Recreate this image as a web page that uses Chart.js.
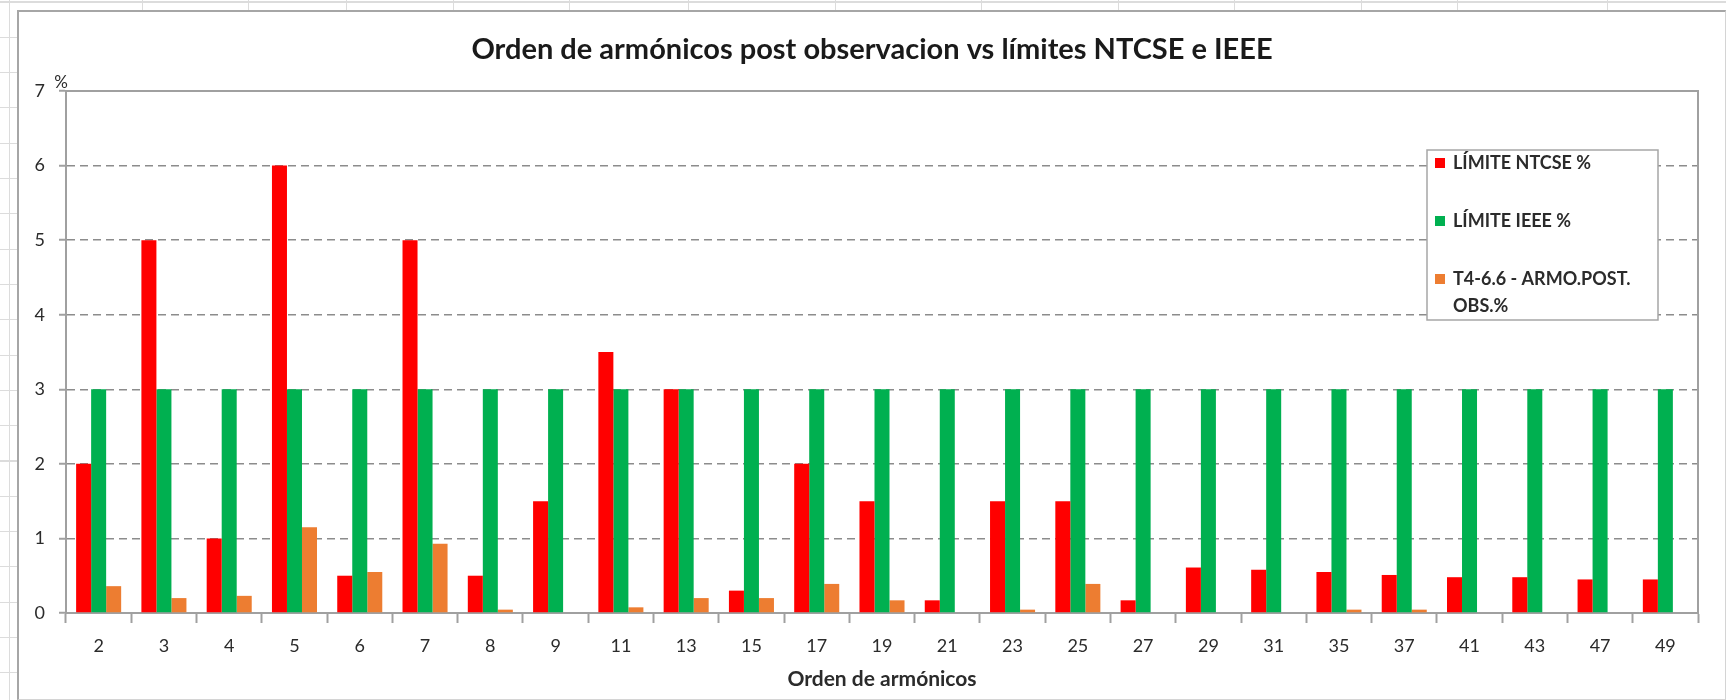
<!DOCTYPE html>
<html>
<head>
<meta charset="utf-8">
<title>Orden de armónicos</title>
<script src="https://cdn.jsdelivr.net/npm/chart.js@4.4.0/dist/chart.umd.min.js"></script>
<style>
  html, body { margin: 0; padding: 0; }
  body {
    width: 1726px; height: 700px; position: relative; overflow: hidden; background: #fff;
    background-image: repeating-linear-gradient(to bottom, transparent 0px, transparent 1.5px, #dcdcdc 1.5px, #dcdcdc 2.6px, transparent 2.6px, transparent 35.3px);
  }
  .col { position: absolute; top: 0; width: 1px; height: 700px; background: #dcdcdc; }
  #wrap {
    position: absolute; left: 17px; top: 10px; width: 1709px; height: 690px; box-sizing: border-box;
    background: #fff; border-left: 2px solid #a6a6a6; border-top: 2px solid #a6a6a6;
    border-right: 1px solid #d4d4d4; border-bottom: 1px solid #d4d4d4; z-index: 2;
  }
  canvas { display: block; }
</style>
</head>
<body>
<div id="wrap"><canvas id="armonicosChart" width="1706" height="687"></canvas></div>
<script>
// datos
const harmonicOrders = ['2', '3', '4', '5', '6', '7', '8', '9', '11', '13', '15', '17', '19', '21', '23', '25', '27', '29', '31', '35', '37', '41', '43', '47', '49'];
const limiteNtcse = [2, 5, 1, 6, 0.5, 5, 0.5, 1.5, 3.5, 3, 0.3, 2, 1.5, 0.17, 1.5, 1.5, 0.17, 0.61, 0.58, 0.55, 0.51, 0.48, 0.48, 0.45, 0.45];
const limiteIeee = [3, 3, 3, 3, 3, 3, 3, 3, 3, 3, 3, 3, 3, 3, 3, 3, 3, 3, 3, 3, 3, 3, 3, 3, 3];
const armoPostObs = [0.36, 0.2, 0.23, 1.15, 0.55, 0.93, 0.045, 0, 0.076, 0.2, 0.2, 0.39, 0.17, 0, 0.045, 0.39, 0, 0, 0, 0.045, 0.045, 0, 0, 0, 0];
const yMin = 0;
const yMax = 7;

// columnas de la hoja de calculo detras del grafico
const sheetCols = [9, 142, 248, 346, 453, 569, 688, 835, 981, 1118, 1234, 1361, 1457, 1607];
sheetCols.forEach(function (x) {
    var d = document.createElement('div');
    d.className = 'col';
    d.style.left = x + 'px';
    document.body.appendChild(d);
});

const FONT = 'Lato, "Open Sans", sans-serif';
const AXIS_GRAY = '#a0a0a0';
const TEXT = '#2b2b2b';

// marco del area, "%" y leyenda con recuadro
const excelDecor = {
    id: 'excelDecor',
    afterDraw: function (chart) {
        var ctx = chart.ctx;
        var a = chart.chartArea;
        ctx.save();
        ctx.strokeStyle = AXIS_GRAY;
        ctx.lineWidth = 2;
        ctx.beginPath();
        ctx.moveTo(a.left, a.top);
        ctx.lineTo(a.right, a.top);
        ctx.lineTo(a.right, a.bottom);
        ctx.stroke();

        ctx.fillStyle = TEXT;
        ctx.font = '17px ' + FONT;
        ctx.textAlign = 'center';
        ctx.textBaseline = 'middle';
        ctx.fillText('%', a.left - 5, a.top - 8);

        // leyenda
        var bx = 1408, by = 138, bw = 231, bh = 170;
        ctx.fillStyle = '#fff';
        ctx.fillRect(bx, by, bw, bh);
        ctx.strokeStyle = '#a6a6a6';
        ctx.lineWidth = 1.5;
        ctx.strokeRect(bx, by, bw, bh);
        var rows = [151, 209, 267];
        ctx.font = 'bold 18px ' + FONT;
        ctx.textAlign = 'left';
        chart.data.datasets.forEach(function (ds, i) {
            var y = rows[i];
            ctx.fillStyle = ds.backgroundColor;
            ctx.fillRect(bx + 8, y - 5, 10, 10);
            ctx.fillStyle = TEXT;
            var words = ds.label.split(' ');
            var line = '';
            words.forEach(function (w) {
                var test = line ? line + ' ' + w : w;
                if (ctx.measureText(test).width > 200 && line) {
                    ctx.fillText(line, bx + 26, y);
                    y += 27;
                    line = w;
                } else {
                    line = test;
                }
            });
            ctx.fillText(line, bx + 26, y);
        });
        ctx.restore();
    }
};

var ctxArmo = document.getElementById('armonicosChart').getContext('2d');
window.armonicosChart = new Chart(ctxArmo, {
    type: 'bar',
    data: {
        labels: harmonicOrders,
        datasets: [{
            label: 'LÍMITE NTCSE %',
            data: limiteNtcse,
            backgroundColor: '#ff0000'
        }, {
            label: 'LÍMITE IEEE %',
            data: limiteIeee,
            backgroundColor: '#00b050'
        }, {
            label: 'T4-6.6 - ARMO.POST. OBS.%',
            data: armoPostObs,
            backgroundColor: '#ed7d31'
        }]
    },
    options: {
        responsive: false,
        animation: false,
        layout: { padding: 0 },
        datasets: {
            bar: { categoryPercentage: 0.69, barPercentage: 1.0 }
        },
        plugins: {
            legend: { display: false },
            tooltip: { enabled: false },
            title: {
                display: true,
                text: 'Orden de armónicos post observacion vs límites NTCSE e IEEE',
                color: '#1a1a1a',
                font: { family: FONT, size: 29, weight: 'bold', lineHeight: 1.2 },
                padding: { top: 20.6, bottom: 23.6 }
            }
        },
        scales: {
            x: {
                afterFit: function (scale) { scale.height = 86; },
                grid: {
                    display: true,
                    offset: true,
                    drawOnChartArea: false,
                    drawTicks: true,
                    tickLength: 10,
                    tickColor: AXIS_GRAY,
                    tickWidth: 2
                },
                border: { display: true, color: AXIS_GRAY, width: 2 },
                ticks: {
                    color: TEXT,
                    font: { family: FONT, size: 18 },
                    padding: 12,
                    maxRotation: 0,
                    autoSkip: false
                },
                title: {
                    display: true,
                    text: 'Orden de armónicos',
                    color: TEXT,
                    font: { family: FONT, size: 21, weight: 'bold', lineHeight: 1.2 },
                    padding: { top: 0, bottom: 7 }
                }
            },
            y: {
                min: yMin,
                max: yMax,
                afterFit: function (scale) { scale.width = 47; },
                grid: {
                    color: '#8c8c8c',
                    lineWidth: 1.5,
                    drawTicks: true,
                    tickLength: 7,
                    tickColor: AXIS_GRAY,
                    tickWidth: 2
                },
                border: { display: true, color: AXIS_GRAY, width: 2, dash: [8, 5] },
                ticks: {
                    stepSize: 1,
                    color: TEXT,
                    font: { family: FONT, size: 18 },
                    padding: 14
                }
            },
            // margen derecho vacio (sin marcas), deja el titulo centrado en el lienzo
            yMargen: {
                type: 'linear',
                position: 'right',
                display: true,
                afterFit: function (scale) { scale.width = 27; },
                grid: { display: false },
                border: { display: false },
                ticks: { display: false }
            }
        }
    },
    plugins: [excelDecor]
});
</script>
</body>
</html>
